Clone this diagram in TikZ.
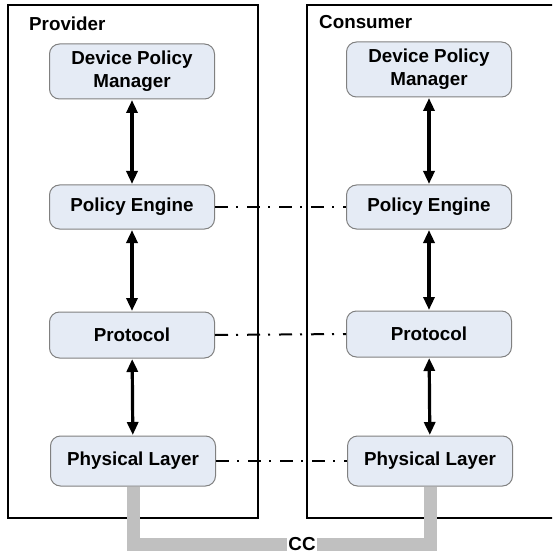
\documentclass[tikz,border=0pt]{standalone}
\usepackage{fontspec}
\setmainfont{Liberation Sans}
\usetikzlibrary{arrows.meta}
\definecolor{nodefill}{HTML}{E5EBF5}
\definecolor{nodeedge}{HTML}{808080}
\definecolor{cable}{HTML}{C0C0C0}
\tikzset{
  layer/.style={draw=nodeedge, line width=1pt, fill=nodefill, rounded corners=10pt,
    minimum width=165pt, align=center, inner sep=0pt,
    font=\fontsize{18.8}{23}\selectfont\bfseries},
  boxlabel/.style={anchor=base west, inner sep=0pt, font=\fontsize{18.8}{23}\selectfont\bfseries},
  frame/.style={draw=black, line width=1.3pt},
  link/.style={line width=3.2pt, {Triangle[length=13pt,width=11pt]}-{Triangle[length=13pt,width=11pt]}, shorten <=0.5pt, shorten >=0.5pt},
  peer/.style={line width=2pt, dash pattern=on 13pt off 8pt on 2pt off 9pt},
  peerthick/.style={line width=2.8pt, dash pattern=on 13pt off 8pt on 2pt off 9pt},
  cablestyle/.style={draw=cable, line width=13pt},
}
\begin{document}
\begin{tikzpicture}[x=1pt,y=-1pt]
\useasboundingbox (0,0) rectangle (552,553);
\clip (0,0) rectangle (552,553);
% frames
\draw[frame] (8,5) rectangle (258,518);
\draw[frame] (307,5) rectangle (570,518);
\node[boxlabel] (prov) at (29,31) {Provider};
\node[boxlabel] (cons) at (319,29) {Consumer};
% provider stack
\node[layer, minimum height=55pt] (dpm1) at (132,71.5) {Device Policy\\Manager};
\node[layer, minimum height=44pt] (pe1) at (132,207) {Policy Engine};
\node[layer, minimum height=46pt] (pr1) at (132,335) {Protocol};
\node[layer, minimum height=50pt] (pl1) at (133,461) {Physical Layer};
% consumer stack
\node[layer, minimum height=55pt] (dpm2) at (429,69.5) {Device Policy\\Manager};
\node[layer, minimum height=44pt] (pe2) at (429,207) {Policy Engine};
\node[layer, minimum height=46pt] (pr2) at (429,334) {Protocol};
\node[layer, minimum height=50pt] (pl2) at (430,461) {Physical Layer};
% vertical links
\draw[link] (dpm1) -- (pe1);
\draw[link] (pe1) -- (pr1);
\draw[link] (pr1) -- (pl1);
\draw[link] (dpm2) -- (pe2);
\draw[link] (pe2) -- (pr2);
\draw[link] (pr2) -- (pl2);
% peer links
\draw[peer] (pe1.east) -- (pe2.west);
\draw[peer] (pr1.east) -- (pr2.west);
\draw[peerthick] (pl1.east) -- (pl2.west);
% cable
\coordinate (ccpt) at (302,544);
\draw[cablestyle] (pl1.south) |- (ccpt) -| (pl2.south);
\node[fill=white, inner xsep=1pt, inner ysep=0.5pt, font=\fontsize{18.8}{23}\selectfont\bfseries] (cc) at (ccpt) {CC};
\end{tikzpicture}
\end{document}
